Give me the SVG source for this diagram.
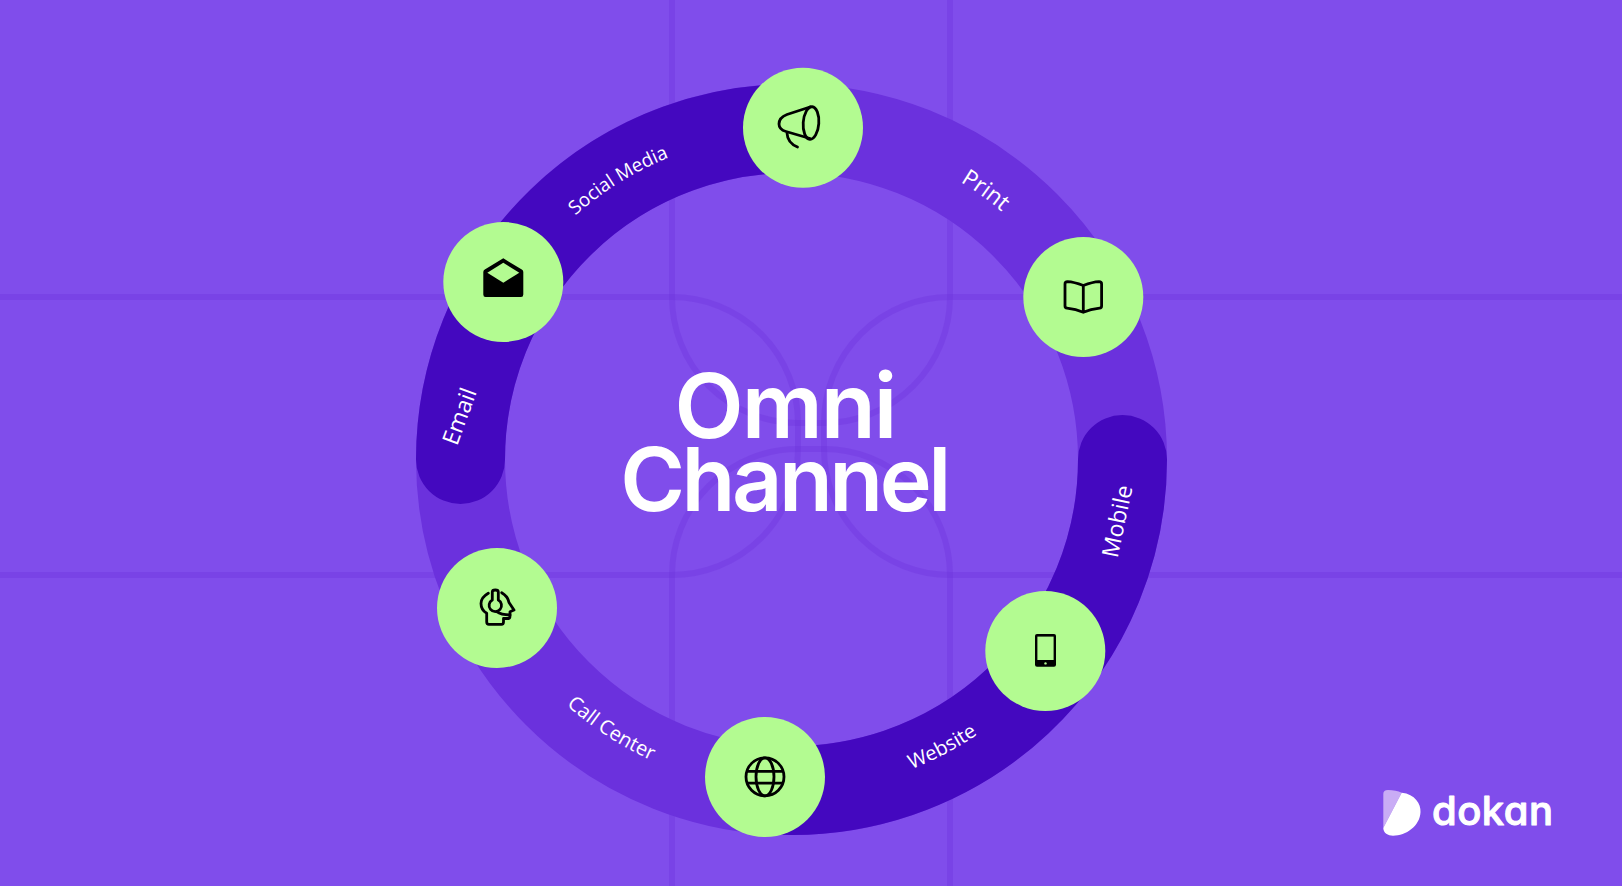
<svg xmlns="http://www.w3.org/2000/svg" width="1622" height="886" viewBox="0 0 1622 886">
<style>
.grid{fill:none;stroke:#6B31DD;stroke-width:6;stroke-opacity:.34}
.ring{fill:none;stroke-width:89}
.node{fill:#B3FB91}
.ic{fill:none;stroke:#000;stroke-width:2.8;stroke-linecap:round;stroke-linejoin:round}
.lab{fill:#fff;font-family:"Open Sans","Noto Sans",sans-serif;font-size:20px;text-anchor:middle}
.big{font-size:23px}
.title{fill:#fff;font-family:Inter,"Liberation Sans",sans-serif;font-weight:600;text-anchor:middle}
</style>
<defs>
<path id="pSocial" d="M504.2,305.4 A326 326 0 0 1 781.3,133.7"/>
<path id="pPrint" d="M882.2,147.4 A325 325 0 0 1 1061.6,278.7"/>
<path id="pWeb" d="M806,791.2 A332 332 0 0 0 1054.9,661.6"/>
<path id="pCall" d="M503,628 A331 331 0 0 0 736,785.5"/>
</defs>
<rect width="1622" height="886" fill="#804DEB"/>
<g id="background-lines">
<path class="grid" d="M672,0 V297 A126 126 0 0 0 798,423 H824 A126 126 0 0 0 950,297 V0"/>
<path class="grid" d="M672,886 V575 A126 126 0 0 1 798,449 H824 A126 126 0 0 1 950,575 V886"/>
<path class="grid" d="M0,297 H672 A126 126 0 0 1 798,423 V449 A126 126 0 0 1 672,575 H0"/>
<path class="grid" d="M1622,297 H950 A126 126 0 0 0 824,423 V449 A126 126 0 0 0 950,575 H1622"/>
</g>
<g id="connectors">
<circle class="ring" cx="791.5" cy="459.5" r="331" stroke="#6B31DD"/>
<path class="ring" d="M1122.5,459.5 A331 331 0 0 1 771,789.9" stroke="#4408BF" stroke-linecap="round"/>
<path class="ring" d="M460.5,459.5 A331 331 0 0 1 803,128.7" stroke="#4408BF" stroke-linecap="round"/>
</g>
<g id="labels">
<text class="lab" style="font-size:19px"><textPath href="#pSocial" startOffset="50%">Social Media</textPath></text>
<text class="lab big"><textPath href="#pPrint" startOffset="49%">Print</textPath></text>
<text class="lab"><textPath href="#pWeb" startOffset="50.3%">Website</textPath></text>
<text class="lab"><textPath href="#pCall" startOffset="52%">Call Center</textPath></text>
<text class="lab big" transform="translate(1125,523) rotate(-78)">Mobile</text>
<text class="lab big" transform="translate(467,419) rotate(-70)">Email</text>
</g>
<g id="node-social">
<circle class="node" cx="803" cy="127.7" r="60"/>
<ellipse class="ic" cx="811" cy="123" rx="7.8" ry="16.3" transform="rotate(4 811 123)"/>
<path class="ic" d="M810,107 L787,114.5 Q779,117.5 779,124 Q779,129.5 786,131.5 L810,138.5"/>
<path class="ic" d="M787,133 Q787.5,143 797.5,147"/>
</g>
<g id="node-print">
<circle class="node" cx="1083.3" cy="297" r="60"/>
<path class="ic" d="M1083.3,285.5 Q1074,282 1067.5,281.7 Q1065,281.7 1065,284 V306 Q1065,308 1067,308.2 Q1076,309 1083.3,312.3 Q1090.6,309 1099.6,308.2 Q1101.6,308 1101.6,306 V284 Q1101.6,281.7 1099,281.7 Q1092.6,282 1083.3,285.5 Z M1083.3,285.5 V312"/>
</g>
<g id="node-mobile">
<circle class="node" cx="1045.3" cy="651" r="60"/>
<rect x="1035" y="634" width="21" height="32.7" rx="2" fill="#000"/>
<rect x="1037.4" y="636.6" width="16.2" height="23.4" class="node"/>
<circle class="node" cx="1045.5" cy="663.4" r="1.2"/>
</g>
<g id="node-website">
<circle class="node" cx="765" cy="777" r="60"/>
<circle class="ic" cx="765" cy="776.8" r="19"/>
<ellipse class="ic" cx="765" cy="776.8" rx="9" ry="19"/>
<path class="ic" d="M748,771.4 H782 M748,783.2 H782" stroke-linecap="butt"/>
</g>
<g id="node-callcenter">
<circle class="node" cx="497" cy="608" r="60"/>
<path class="ic" d="M488.3,593.3 Q481,597.5 481,603.5 Q481,610 486.7,613.3 V622 Q486.7,624.3 489,624.3 H501.5 Q503.5,624.3 503.5,622 V618.5 H508 Q510,618.5 510,616 V611.7 L514,610 L509,602.5 Q508,596.5 501.7,592.7"/>
<path class="ic" d="M492.3,600 V592 Q492.3,590 495.3,590 Q498.3,590 498.3,592 V600 A6.2 6.2 0 1 1 492.3,600 Z"/>
<path class="ic" d="M496.7,611.7 Q501,615 510,615"/>
</g>
<g id="node-email">
<circle class="node" cx="503.3" cy="282" r="60"/>
<path d="M503.3,258.3 L521.8,269.6 Q523.3,270.5 523.3,272 V294.5 Q523.3,297 521,297 H485.5 Q483.3,297 483.3,294.5 V272 Q483.3,270.5 484.8,269.6 Z" fill="#000"/>
<path class="node" d="M503.3,262.8 L519.3,272.8 L503.3,282.8 L487.3,272.8 Z"/>
</g>
<g id="title">
<text class="title" x="785" y="438" font-size="90" letter-spacing="-2">Omni</text>
<text class="title" x="784" y="511" font-size="88" letter-spacing="-3.5">Channel</text>
</g>
<g id="logo">
<path d="M1383.3,794 Q1383.3,790 1388,790 Q1396,790 1401.7,792.7 L1383.3,828 Z" fill="#C9ACF5"/>
<path d="M1401.7,792.7 C1415,794 1421,804 1420.5,812 C1420,826 1406,835.7 1393,835.7 C1388,835.7 1383.3,833 1383.3,828 Z" fill="#fff"/>
<text x="1432" y="825" fill="#fff" stroke="#fff" stroke-width="1" stroke-linejoin="round" font-family="Inter,&quot;Liberation Sans&quot;,sans-serif" font-size="40" font-weight="500" textLength="121" style="font-feature-settings:'cv11'">dokan</text>
</g>
</svg>
